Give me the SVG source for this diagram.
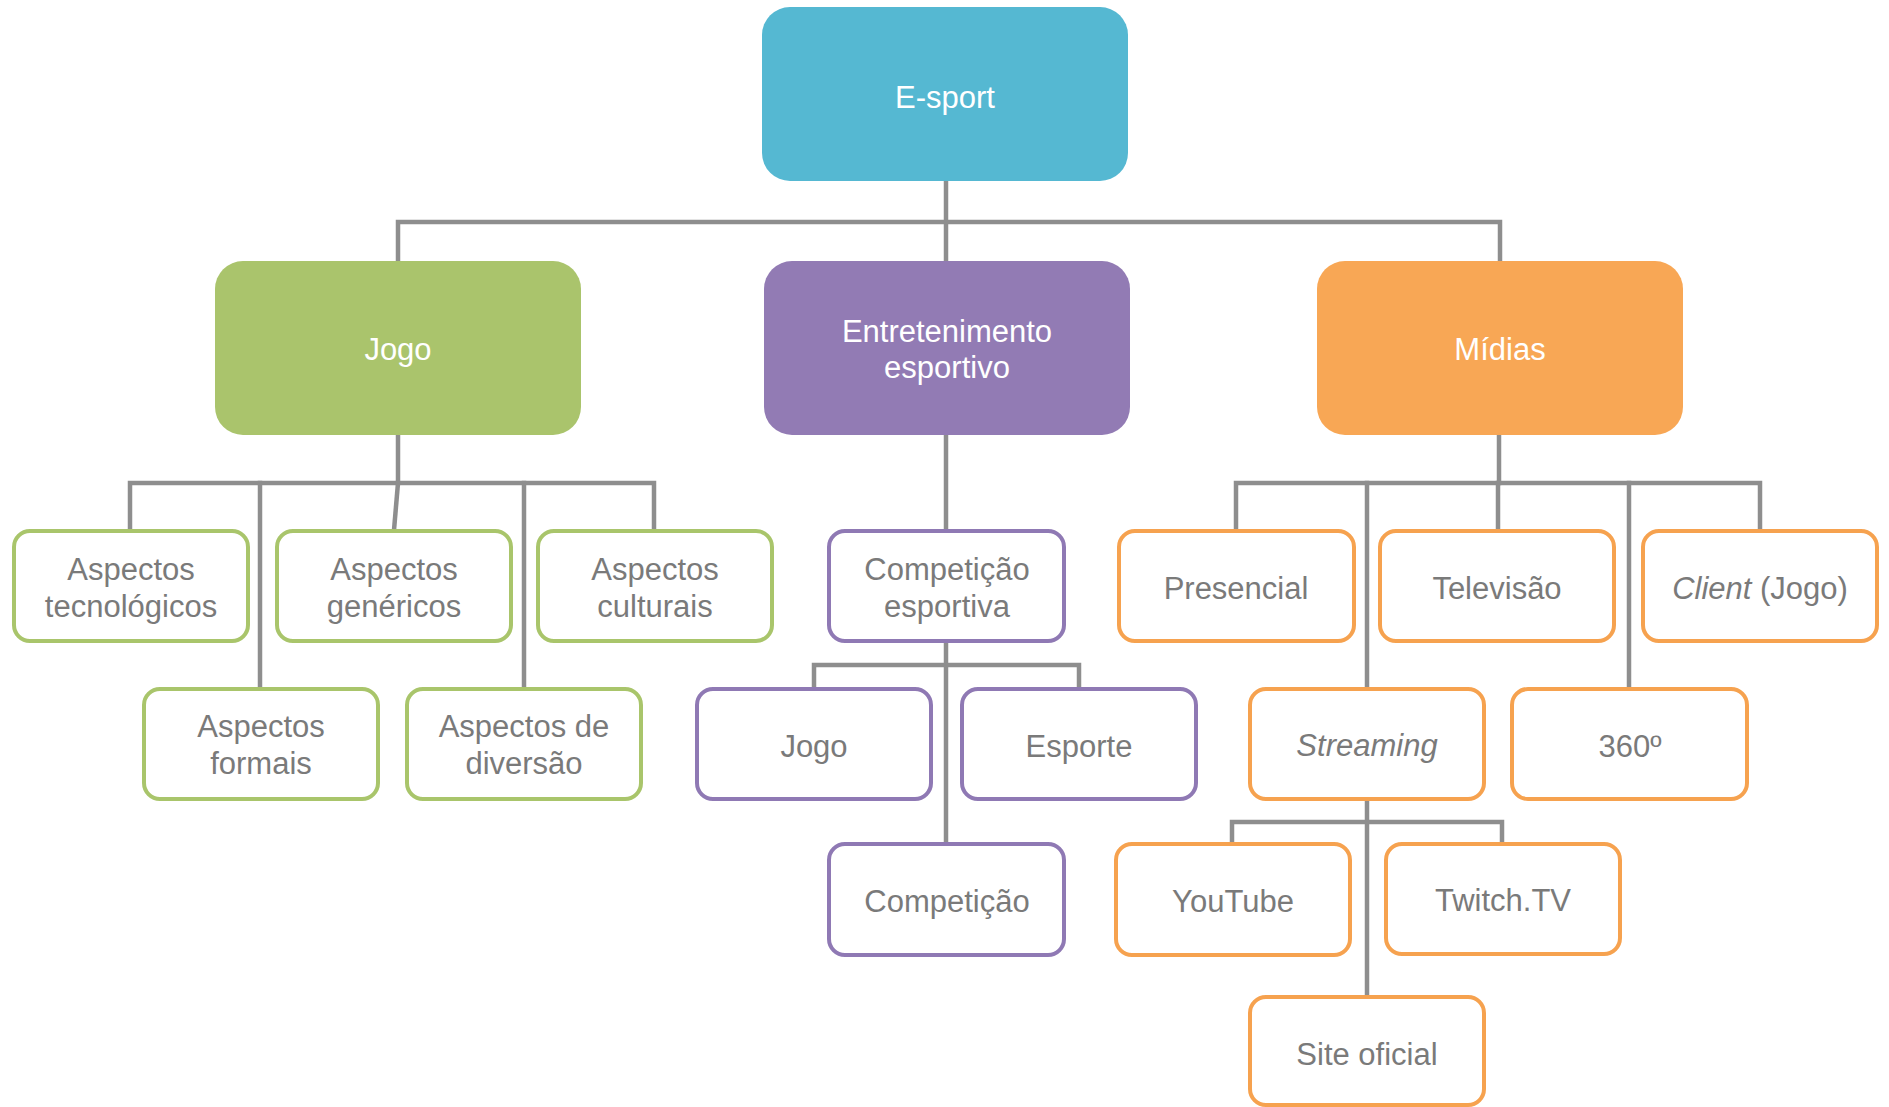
<svg xmlns="http://www.w3.org/2000/svg" width="1889" height="1107" viewBox="0 0 1889 1107">
<style>
  .bg { fill: #ffffff; }
  .conn { stroke: #8e8e8e; stroke-width: 4.5; fill: none; stroke-linecap: square; }
  .esport { fill: #55b8d2; }
  .jogo { fill: #aac46c; }
  .ent { fill: #927bb4; }
  .mid { fill: #f8a755; }
  .box { fill: #ffffff; stroke-width: 4; }
  .g { stroke: #a9c56b; }
  .p { stroke: #8f79b4; }
  .o { stroke: #f6a24f; }
  .tw { font-family: "Liberation Sans", Arial, sans-serif; font-size: 31px; fill: #ffffff; text-anchor: middle; }
  .tg { font-family: "Liberation Sans", Arial, sans-serif; font-size: 31px; fill: #7a7a7a; text-anchor: middle; }
  .it { font-style: italic; }
</style>
<rect class="bg" x="0" y="0" width="1889" height="1107"/>

<g id="connectors">
  <path class="conn" d="M946 181 V260"/>
  <path class="conn" d="M398 260 V222 H1500 V260"/>
  <path class="conn" d="M398 434 V483"/>
  <path class="conn" d="M130 530 V483 H654 V530"/>
  <path class="conn" d="M398 483 L394 530"/>
  <path class="conn" d="M260 483 V688"/>
  <path class="conn" d="M524 483 V688"/>
  <path class="conn" d="M946 434 V530"/>
  <path class="conn" d="M946 641 V843"/>
  <path class="conn" d="M814 688 V665 H1079 V688"/>
  <path class="conn" d="M1499 434 V483"/>
  <path class="conn" d="M1236 530 V483 H1760 V530"/>
  <path class="conn" d="M1498 483 V530"/>
  <path class="conn" d="M1367 483 V688"/>
  <path class="conn" d="M1629 483 V688"/>
  <path class="conn" d="M1367 799 V996"/>
  <path class="conn" d="M1232 843 V822 H1502 V843"/>
</g>

<g id="n-esport">
  <rect class="esport" x="762" y="7" width="366" height="174" rx="28"/>
  <text class="tw" x="945" y="108">E-sport</text>
</g>
<g id="n-jogo">
  <rect class="jogo" x="215" y="261" width="366" height="174" rx="28"/>
  <text class="tw" x="398" y="360">Jogo</text>
</g>
<g id="n-entretenimento">
  <rect class="ent" x="764" y="261" width="366" height="174" rx="28"/>
  <text class="tw" x="947" y="342">Entretenimento</text>
  <text class="tw" x="947" y="378">esportivo</text>
</g>
<g id="n-midias">
  <rect class="mid" x="1317" y="261" width="366" height="174" rx="28"/>
  <text class="tw" x="1500" y="360">Mídias</text>
</g>

<g id="n-tecnologicos">
  <rect class="box g" x="14" y="531" width="234" height="110" rx="16"/>
  <text class="tg" x="131" y="580">Aspectos</text>
  <text class="tg" x="131" y="617">tecnológicos</text>
</g>
<g id="n-genericos">
  <rect class="box g" x="277" y="531" width="234" height="110" rx="16"/>
  <text class="tg" x="394" y="580">Aspectos</text>
  <text class="tg" x="394" y="617">genéricos</text>
</g>
<g id="n-culturais">
  <rect class="box g" x="538" y="531" width="234" height="110" rx="16"/>
  <text class="tg" x="655" y="580">Aspectos</text>
  <text class="tg" x="655" y="617">culturais</text>
</g>
<g id="n-formais">
  <rect class="box g" x="144" y="689" width="234" height="110" rx="16"/>
  <text class="tg" x="261" y="737">Aspectos</text>
  <text class="tg" x="261" y="774">formais</text>
</g>
<g id="n-diversao">
  <rect class="box g" x="407" y="689" width="234" height="110" rx="16"/>
  <text class="tg" x="524" y="737">Aspectos de</text>
  <text class="tg" x="524" y="774">diversão</text>
</g>

<g id="n-competicao-esportiva">
  <rect class="box p" x="829" y="531" width="235" height="110" rx="16"/>
  <text class="tg" x="947" y="580">Competição</text>
  <text class="tg" x="947" y="617">esportiva</text>
</g>
<g id="n-jogo2">
  <rect class="box p" x="697" y="689" width="234" height="110" rx="16"/>
  <text class="tg" x="814" y="757">Jogo</text>
</g>
<g id="n-esporte">
  <rect class="box p" x="962" y="689" width="234" height="110" rx="16"/>
  <text class="tg" x="1079" y="757">Esporte</text>
</g>
<g id="n-competicao">
  <rect class="box p" x="829" y="844" width="235" height="111" rx="16"/>
  <text class="tg" x="947" y="912">Competição</text>
</g>

<g id="n-presencial">
  <rect class="box o" x="1119" y="531" width="235" height="110" rx="16"/>
  <text class="tg" x="1236" y="599">Presencial</text>
</g>
<g id="n-televisao">
  <rect class="box o" x="1380" y="531" width="234" height="110" rx="16"/>
  <text class="tg" x="1497" y="599">Televisão</text>
</g>
<g id="n-client">
  <rect class="box o" x="1643" y="531" width="234" height="110" rx="16"/>
  <text class="tg" x="1760" y="599"><tspan class="it">Client</tspan> (Jogo)</text>
</g>
<g id="n-streaming">
  <rect class="box o" x="1250" y="689" width="234" height="110" rx="16"/>
  <text class="tg it" x="1367" y="756">Streaming</text>
</g>
<g id="n-360">
  <rect class="box o" x="1512" y="689" width="235" height="110" rx="16"/>
  <text class="tg" x="1630" y="757">360º</text>
</g>
<g id="n-youtube">
  <rect class="box o" x="1116" y="844" width="234" height="111" rx="16"/>
  <text class="tg" x="1233" y="912">YouTube</text>
</g>
<g id="n-twitch">
  <rect class="box o" x="1386" y="844" width="234" height="110" rx="16"/>
  <text class="tg" x="1503" y="911">Twitch.TV</text>
</g>
<g id="n-site">
  <rect class="box o" x="1250" y="997" width="234" height="108" rx="16"/>
  <text class="tg" x="1367" y="1065">Site oficial</text>
</g>
</svg>
